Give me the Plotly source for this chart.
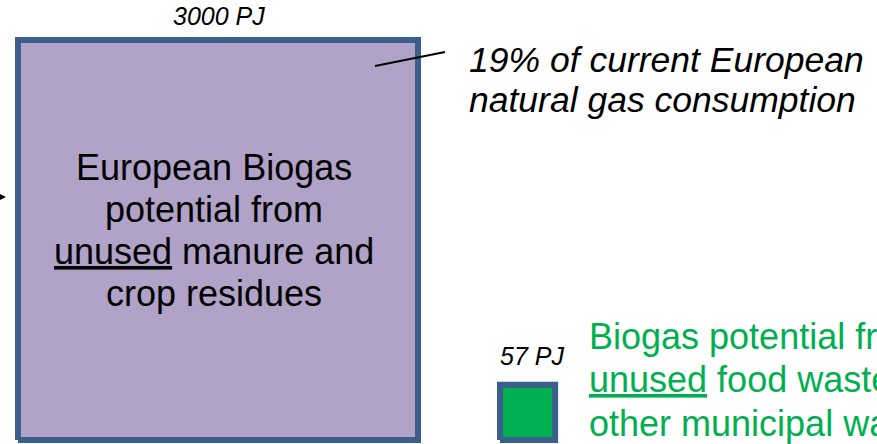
import math
import plotly.graph_objects as go

# ---- data ----
categories = ["manure_crop", "food_municipal"]
values_pj = [3000, 57]
value_labels = ["3000 PJ", "57 PJ"]
big_label_lines = ["European Biogas", "potential from", "<u>unused</u> manure and", "crop residues"]
small_label_lines = ["Biogas potential from", "<u>unused</u> food waste and", "other municipal waste"]
note_lines = ["19% of current European", "natural gas consumption"]

# ---- layout constants (axis units == window pixels) ----
W, H = 877, 444
scale = 400 / math.sqrt(max(values_pj))       # axis units per sqrt(PJ)
left_edges = [18, 500]
bottom = 440
fills = ["#B1A2C8", "#00B050"]
border = "#3B5E8C"
FONT = "Liberation Sans, Arial, sans-serif"

fig = go.Figure()
sides = []
for cat, v, x0, fc in zip(categories, values_pj, left_edges, fills):
    s = math.sqrt(v) * scale
    sides.append(s)
    fig.add_trace(go.Scatter(
        x=[x0, x0 + s, x0 + s, x0, x0],
        y=[bottom, bottom, bottom - s, bottom - s, bottom],
        mode="lines", fill="toself", fillcolor=fc,
        line=dict(color=border, width=6), name=cat, hoverinfo="skip",
        showlegend=False,
    ))

# leader line from big square to note
fig.add_trace(go.Scatter(x=[375, 445], y=[66, 52], mode="lines",
                         line=dict(color="black", width=2), showlegend=False,
                         hoverinfo="skip"))

ann = []
ann.append(dict(x=left_edges[0] + sides[0] / 2 + 1, y=16, text=f"<i>{value_labels[0]}</i>",
                showarrow=False, font=dict(size=25, color="black", family=FONT),
                xanchor="center", yanchor="middle"))
ann.append(dict(x=left_edges[1] - 2, y=356, text=f"<i>{value_labels[1]}</i>",
                showarrow=False, font=dict(size=25, color="black", family=FONT),
                xanchor="left", yanchor="middle"))

for i, t in enumerate(big_label_lines):
    ann.append(dict(x=214, y=167 + i * 42.3, text=t, showarrow=False,
                    font=dict(size=36, color="black", family=FONT),
                    xanchor="center", yanchor="middle"))

for i, t in enumerate(small_label_lines):
    ann.append(dict(x=587, y=336 + i * 43.5, text=t, showarrow=False,
                    font=dict(size=36, color="#00B050", family=FONT),
                    xanchor="left", yanchor="middle"))

for i, t in enumerate(note_lines):
    ann.append(dict(x=467, y=60 + i * 39.5, text=f"<i>{t}</i>", showarrow=False,
                    font=dict(size=35.5, color="black", family=FONT),
                    xanchor="left", yanchor="middle"))

ann.append(dict(x=6, y=197, ax=-40, ay=197, axref="x", ayref="y", text="",
                showarrow=True, arrowhead=2, arrowsize=2.2, arrowwidth=2,
                arrowcolor="black"))

fig.update_layout(
    width=W, height=H, margin=dict(l=0, r=0, t=0, b=0),
    paper_bgcolor="white", plot_bgcolor="white",
    xaxis=dict(range=[0, W], visible=False, fixedrange=True),
    yaxis=dict(range=[H, 0], visible=False, fixedrange=True),
    annotations=ann, showlegend=False,
)
fig.write_html(
    "out.html",
    config={"displayModeBar": False, "staticPlot": True},
    post_script="document.body.style.margin='0';document.body.style.overflow='hidden';",
)
